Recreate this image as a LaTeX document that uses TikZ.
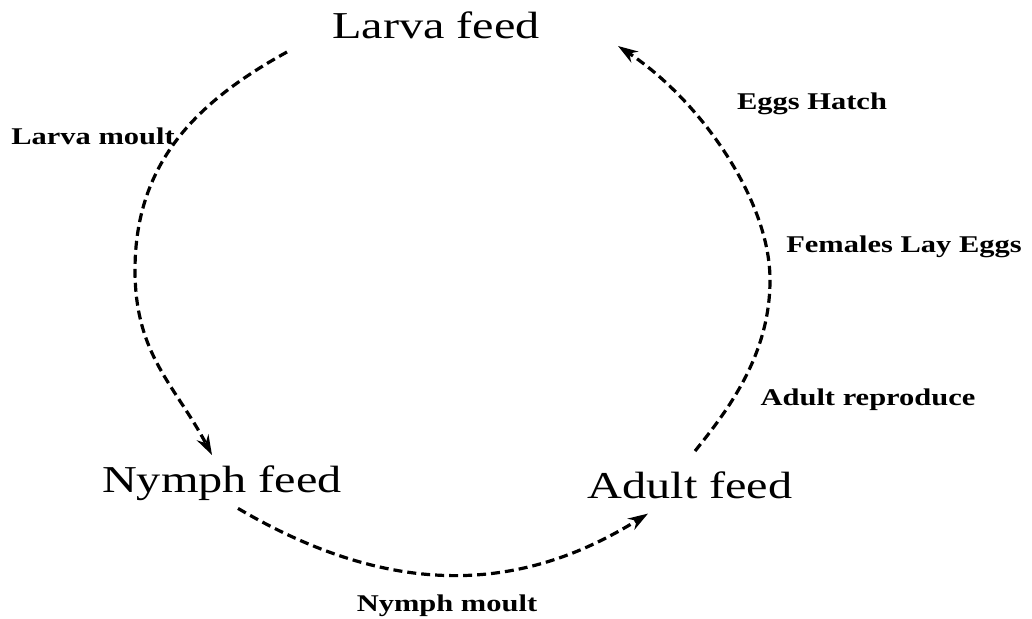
\documentclass[tikz,border=0pt]{standalone}
\usepackage{fontspec}
\setmainfont{Liberation Serif}
\usetikzlibrary{arrows.meta,calc}
\newcommand{\wide}[1]{\scalebox{1.27}[1]{#1}}
\tikzset{
  stage/.style={font=\fontsize{38}{44}\selectfont, inner sep=0pt, anchor=base},
  lbl/.style={font=\bfseries\fontsize{24}{28}\selectfont, inner sep=0pt, anchor=base},
  cyc/.style={line width=3.2pt, dash pattern=on 9pt off 5pt, -{Stealth[length=20pt,width=13pt]}}
}
\begin{document}
\begin{tikzpicture}[x=1pt,y=-1pt]
\useasboundingbox[fill=white] (0,0) rectangle (1032,618);
%% stages
\node[stage] (larva) at (436,39) {\wide{Larva feed}};
\node[stage] (nymph) at (222,492) {\wide{Nymph feed}};
\node[stage] (adult) at (690,498) {\wide{Adult feed}};
%% events
\node[lbl] (lmoult) at (93,144) {\wide{Larva moult}};
\node[lbl] (hatch) at (812,109) {\wide{Eggs Hatch}};
\node[lbl] (lay) at (904,252) {\wide{Females Lay Eggs}};
\node[lbl] (repro) at (868,405) {\wide{Adult reproduce}};
\node[lbl] (nmoult) at (447,611) {\wide{Nymph moult}};
%% cycle
\draw[cyc] ($(larva.base west)+(-45,13)$) .. controls (200,100) and (135,160) .. (135,270)
  .. controls (135,355) and (175,385) .. ($(nymph.north)+(-10,-10)$);
\draw[cyc] ($(nymph.south)+(16,8)$) .. controls (387,596) and (516,596) .. ($(adult.south)+(-42,15)$);
\draw[cyc] ($(adult.north)+(5,-20)$) .. controls (728,410) and (770,355) .. (770,280)
  .. controls (770,200) and (700,100) .. ($(larva.base east)+(78,7)$);
\end{tikzpicture}
\end{document}
